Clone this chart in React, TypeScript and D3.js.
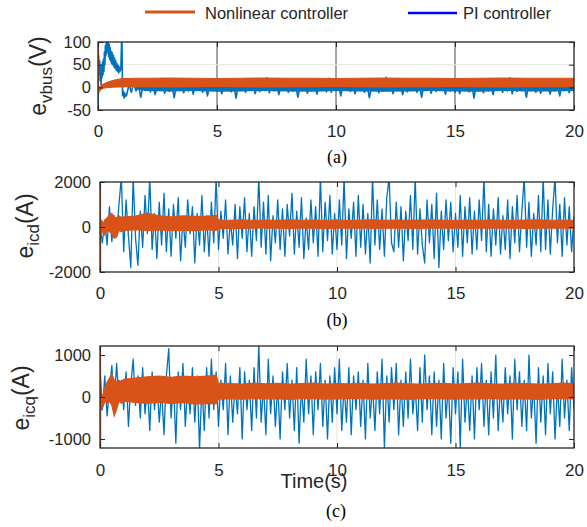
import React, { useEffect, useRef } from 'react';
import * as d3 from 'd3';

const W = 587;
const H = 527;
const FONT = 'Arial, "Liberation Sans", Helvetica, sans-serif';
const SERIF = '"Times New Roman", "Liberation Serif", serif';
const BLUE = '#0072BD';
const ORANGE = '#D95319';
const INK = '#262626';

// shared x axis
const timeTicks = [0, 5, 10, 15, 20];
const step = 0.1; // sampling step of the PI traces

// ---- panel (a): e_vbus ----
const vbusTicks = [-50, 0, 50, 100];
const vbusPiEarly: [number, number][] = [
  [0, 0], [0.005, -50], [0.012, 72], [0.03, 65], [0.05, 30], [0.07, 58], [0.09, 15], [0.11, 48],
  [0.13, 5], [0.15, 40], [0.17, 22], [0.19, 55], [0.21, 28], [0.23, 62], [0.25, 35], [0.27, 78],
  [0.29, 50], [0.31, 92], [0.33, 70], [0.35, 100], [0.37, 75], [0.39, 100], [0.41, 82], [0.43, 100],
  [0.45, 68], [0.47, 95], [0.49, 62], [0.51, 88], [0.53, 58], [0.55, 80], [0.57, 52], [0.6, 76],
  [0.62, 50], [0.65, 70], [0.67, 45], [0.7, 64], [0.72, 42], [0.75, 58], [0.77, 38], [0.8, 52],
  [0.82, 35], [0.85, 48], [0.87, 32], [0.9, 45], [0.93, 36], [0.96, 42], [0.99, 100], [1.01, 95],
  [1.03, -18], [1.06, -8], [1.09, -24], [1.12, -12], [1.15, -20], [1.2, -18],
];
const vbusPiStart = 1.2;
const vbusPi = [
  -18, 6, -11, 9, -8, 4, -22, 8, -7, 10,
  -10, 5, -16, 7, -6, 12, -13, 3, -9, 8,
  -23, 6, -7, 9, -12, 4, -8, 11, -15, 7,
  -5, 5, -11, 10, -19, 6, -7, 18, -8, 8,
  -14, 4, -6, 9, -10, 7, -24, 5, -7, 11,
  -11, 6, -5, 10, -14, 4, -9, 8, -7, 21,
  -12, 7, -8, 5, -16, 9, -6, 6, -11, 12,
  -8, 4, -22, 8, -7, 10, -13, 5, -5, 7,
  -15, 9, -7, 6, -10, 20, -11, 4, -8, 8,
  -19, 7, -6, 11, -9, 5, -14, 9, -7, 6,
  -11, 10, -23, 4, -7, 8, -12, 6, -8, 22,
  -8, 5, -14, 9, -6, 7, -16, 4, -10, 11,
  -7, 8, -11, 6, -22, 10, -7, 5, -13, 7,
  -9, 9, -5, 4, -15, 8, -8, 19, -11, 6,
  -14, 10, -7, 5, -10, 7, -24, 9, -7, 4,
  -12, 8, -8, 6, -16, 11, -6, 5, -11, 7,
  -8, 21, -14, 4, -9, 9, -7, 6, -22, 8,
  -7, 5, -11, 10, -13, 7, -5, 4, -15, 9,
  -8, 6, -19, 8, -7, 5, -12, 10, -10,
];
// solid core of the fast PI oscillation (0 down to this level)
const vbusPiCoreTime = [1.6, 2, 3, 4, 5, 6, 7, 8, 9, 10, 11, 12, 13, 14, 15, 16, 17, 18, 19, 20];
const vbusPiCoreLow = [-5, -8, -9, -8, -10, -9, -8, -9, -10, -8, -9, -10, -9, -8, -9, -10, -8, -9, -9, -8];
const vbusNlSpike: [number, number][] = [[0, 100], [0.003, -15], [0.01, -4]];
const vbusNlTime = [
  0.01, 0.05, 0.1, 0.15, 0.2, 0.3, 0.4, 0.5, 0.6, 0.7, 0.8, 0.9, 1, 1.2, 1.5,
  2, 3, 4, 5, 6, 7, 8, 9, 10, 11, 12, 13, 14, 15, 16, 17, 18, 19, 20,
];
const vbusNlUpper = [
  -4, -1, 2, 4, 6, 9, 11, 13, 15, 16, 17, 18, 19, 19.5, 20,
  20, 20.5, 20, 19.5, 20, 20.5, 20, 20, 19.5, 20, 20.5, 20, 20, 19.5, 20, 20.5, 20, 20, 20,
];
const vbusNlLower = [
  -14, -9, -6, -4, -2, -1, 0, 0, 0.5, 0.5, 1, 1, 1, 1.5, 1.5,
  1.5, 1, 1.5, 2, 1.5, 1, 1.5, 1.5, 2, 1.5, 1, 1.5, 1.5, 2, 1.5, 1, 1.5, 1.5, 1.5,
];

// ---- panel (b): e_icd ----
const icdTicks = [-2000, 0, 2000];
const icdPi = [
  0, -700, 300, -800, 900, -650, 500, -350, 1000, 2200,
  -1100, 1200, -400, -1800, 2200, -500, -1700, 700, -900, 1400,
  -300, 2200, -1000, 600, -1400, 1100, -800, 1500, -1100, 800,
  -1300, 1000, -500, 1300, -1500, 400, -900, 1200, -300, 900,
  -1600, 600, -800, 1400, -1100, 500, -1300, 1100, -700, 2200,
  -1000, 700, -500, 1200, -1200, 300, -800, 1000, -1400, 900,
  -500, 1300, -1100, 600, -1300, 900, -600, 2200, -900, 1100,
  -1200, 1400, -1500, 500, -700, 1200, -1000, 800, -1300, 1000,
  -400, 1500, -1200, 700, -900, 1300, -1400, 400, -1000, 1200,
  -700, 900, -1300, 2200, -1100, 1100, -600, 1400, -1200, 600,
  -1000, 1200, -800, 2200, -1400, 800, -500, 1100, -1300, 1400,
  -900, 1000, -1200, 600, -1600, 2200, -800, 1200, -1000, 800,
  -1300, 1300, 2200, -700, -1100, 1100, -900, 900, -1500, 700,
  -600, 1400, -1000, 2200, -1200, 800, -800, -1600, 1200, -700,
  1000, -1400, 1500, -1800, 700, -1000, 1200, -600, 1100, -1100,
  600, -900, 1400, -1300, 900, -700, 1300, -1200, 700, -1000,
  1200, -600, 2200, -1100, 1000, -1300, 800, -800, 1300, -1200,
  500, -1000, 1200, -1400, 900, -700, 1400, -1100, 700, 2200,
  -900, 1100, -1300, 600, -800, 1400, -1100, 2200, -1000, 1200,
  -1200, 800, 2200, -700, 1000, -1300, 1300, -800, 900, -1100,
  500,
];
const icdNlSpike: [number, number][] = [[0, 2200], [0.003, -2200], [0.008, 0]];
const currentNlTime = [
  0.01, 0.05, 0.1, 0.15, 0.2, 0.3, 0.4, 0.5, 0.6, 0.7, 0.8, 0.9, 1,
  1.5, 2, 2.5, 3, 3.5, 4, 4.5, 4.9, 5,
  5.5, 6, 6.5, 7, 7.5, 8, 8.5, 9, 9.5, 10, 10.5, 11, 11.5, 12, 12.5,
  13, 13.5, 14, 14.5, 15, 15.5, 16, 16.5, 17, 17.5, 18, 18.5, 19, 19.5, 20,
];
const icdNlUpper = [
  200, 300, 250, 150, 300, 400, 550, 600, 450, 400, 500, 420, 450,
  480, 620, 500, 450, 500, 470, 480, 520, 310,
  300, 320, 290, 310, 300, 320, 295, 310, 300, 315,
  290, 305, 320, 300, 310, 295, 305, 320, 300, 290,
  310, 300, 315, 300, 295, 310, 320, 300, 305, 300,
];
const icdNlLower = [
  -400, -300, -200, -250, -350, -150, -200, -300, -500, -450, -150, -200, -150,
  -120, -150, -130, -150, -140, -160, -120, -150, -60,
  -50, -60, -45, -55, -50, -65, -45, -50, -60, -50,
  -55, -45, -60, -50, -55, -50, -65, -45, -50, -55,
  -60, -50, -45, -55, -50, -60, -50, -45, -55, -50,
];

// ---- panel (c): e_icq ----
const icqTicks = [-1000, 0, 1000];
const icqPi = [
  700, -300, 500, -450, 200, 750, -200, 800, -100, 400,
  -300, 600, -700, 300, 900, -200, 500, -500, 700, -400,
  300, -800, 600, -300, 400, -600, 200, -900, 500, 1150,
  -500, 400, -1100, 600, -300, 800, -700, 300, -400, 700,
  -600, 500, -1250, 300, -800, 700, -500, 900, -300, 600,
  -700, 400, -300, 800, -900, 500, -600, 300, -400, 700,
  -1000, 600, -300, 400, -800, 700, -500, 1250, -600, 300,
  -900, 900, -400, 500, -700, 300, -1000, 600, -300, 800,
  -500, 400, -800, 700, -1100, 300, -600, 900, -400, 500,
  -900, 600, -300, 800, -700, 400, -1000, 500, -600, 700,
  -400, 900, -800, 300, -600, 700, -900, 500, -300, 600,
  -700, 400, -1000, 800, -500, 300, -800, 600, -400, 900,
  -1200, 500, -600, 700, -300, 800, -900, 400, -700, 600,
  -500, 900, -400, 300, -800, 700, -600, 1000, -300, 500,
  -900, 600, -700, 400, -1000, 800, -500, 300, -1100, 700,
  -400, 600, -1200, 900, -600, 300, -800, 500, -1000, 700,
  -300, 800, -700, 400, -900, 600, -500, 1000, -800, 300,
  -600, 700, -400, 500, -1000, 900, -300, 600, -700, 400,
  -800, 1000, -500, 300, -1100, 700, -600, 500, -900, 800,
  -400, 600, -1000, 300, -700, 900, -500, 400, -800, 700,
  -300,
];
const icqNlSpike: [number, number][] = [[0, 1300], [0.003, -1300], [0.008, -200]];
const icqNlUpper = [
  -100, -50, 0, 100, 200, 350, 450, 550, 400, 350, 400, 350, 420,
  450, 480, 500, 470, 500, 480, 500, 520, 330,
  320, 310, 330, 315, 325, 305, 320, 330, 310, 320,
  315, 325, 310, 320, 330, 315, 305, 320, 325, 310,
  320, 330, 315, 310, 325, 320, 305, 315, 330, 320,
];
const icqNlLower = [
  -350, -300, -250, -200, -100, -150, -100, -200, -450, -300, -100, -150, -100,
  -130, -150, -120, -160, -130, -170, -150, -160, -50,
  -40, -50, -35, -45, -40, -55, -35, -40, -50, -45,
  -40, -35, -50, -45, -40, -55, -40, -35, -45, -50,
  -40, -45, -35, -50, -40, -45, -55, -40, -35, -45,
];

type Box = { left: number; right: number; top: number; bottom: number };

type PanelProps = {
  id: string;
  box: Box;
  yDomain: [number, number];
  yTicks: number[];
  yGrid: number[];
  yPad: number;
  xPad: number;
  xGridColor: string;
  piEarly: [number, number][];
  piStart: number;
  pi: number[];
  piCoreTime?: number[];
  piCoreLow?: number[];
  nlSpike: [number, number][];
  nlTime: number[];
  nlUpper: number[];
  nlLower: number[];
  piWidth: number;
};

function Panel(props: PanelProps) {
  const { id, box, yDomain, yTicks, yGrid, yPad, xPad, xGridColor } = props;
  const bottomRef = useRef<SVGGElement>(null);
  const topRef = useRef<SVGGElement>(null);
  const leftRef = useRef<SVGGElement>(null);
  const rightRef = useRef<SVGGElement>(null);

  const x = d3.scaleLinear().domain([0, 20]).range([box.left, box.right]);
  const y = d3.scaleLinear().domain(yDomain).range([box.bottom, box.top]);

  useEffect(() => {
    const style = (g: any, size: number) => {
      g.select('.domain').remove();
      g.attr('font-family', FONT).attr('font-size', size).attr('color', INK);
      g.selectAll('line').attr('stroke-width', 1);
    };
    d3.select(bottomRef.current!)
      .call(d3.axisBottom(x).tickValues(timeTicks).tickSizeInner(-5).tickSizeOuter(0)
        .tickPadding(xPad).tickFormat((d) => String(d)))
      .call((g) => style(g, 17));
    d3.select(topRef.current!)
      .call(d3.axisTop(x).tickValues(timeTicks).tickSizeInner(-5).tickSizeOuter(0).tickFormat(() => ''))
      .call((g) => style(g, 17));
    d3.select(leftRef.current!)
      .call(d3.axisLeft(y).tickValues(yTicks).tickSizeInner(-5).tickSizeOuter(0)
        .tickPadding(yPad).tickFormat((d) => String(d)))
      .call((g) => style(g, 16.5));
    d3.select(rightRef.current!)
      .call(d3.axisRight(y).tickValues(yTicks).tickSizeInner(-5).tickSizeOuter(0).tickFormat(() => ''))
      .call((g) => style(g, 16.5));
  });

  // PI trace: early transient pairs followed by the evenly sampled part
  const piPoints: [number, number][] = props.piEarly.concat(
    props.pi.map((v, i) => [props.piStart + i * step, v] as [number, number])
  );
  const line = d3.line<[number, number]>().x((d) => x(d[0])).y((d) => y(d[1]));
  const band = d3.area<number>()
    .x((t) => x(t))
    .y0((_, i) => y(props.nlLower[i]))
    .y1((_, i) => y(props.nlUpper[i]));
  const core = props.piCoreTime && props.piCoreLow
    ? d3.area<number>().x((t) => x(t)).y0(y(3)).y1((_, i) => y(props.piCoreLow![i]))(props.piCoreTime)
    : null;

  const gridYs = yGrid.map((v) => y(v));

  return (
    <g>
      <defs>
        <clipPath id={id}>
          <rect x={box.left} y={box.top} width={box.right - box.left} height={box.bottom - box.top} />
        </clipPath>
      </defs>
      {/* grid */}
      {timeTicks.slice(1, -1).map((t) => (
        <line key={'gx' + t} x1={x(t)} x2={x(t)} y1={box.top} y2={box.bottom} stroke={xGridColor} strokeWidth={1} />
      ))}
      {gridYs.map((gy, i) => (
        <line key={'gy' + i} x1={box.left} x2={box.right} y1={gy} y2={gy} stroke="#e3e3e3" strokeWidth={1} />
      ))}
      <g clipPath={`url(#${id})`}>
        {core && <path d={core} fill={BLUE} />}
        <path d={line(piPoints)!} fill="none" stroke={BLUE} strokeWidth={props.piWidth} strokeLinejoin="round" />
        <path d={band(props.nlTime)!} fill={ORANGE} stroke={ORANGE} strokeWidth={1.2} />
        <path d={line(props.nlSpike)!} fill="none" stroke={ORANGE} strokeWidth={2.2} />
      </g>
      <rect x={box.left} y={box.top} width={box.right - box.left} height={box.bottom - box.top}
        fill="none" stroke={INK} strokeWidth={1.3} />
      <g ref={bottomRef} transform={`translate(0, ${box.bottom})`} />
      <g ref={topRef} transform={`translate(0, ${box.top})`} />
      <g ref={leftRef} transform={`translate(${box.left}, 0)`} />
      <g ref={rightRef} transform={`translate(${box.right}, 0)`} />
    </g>
  );
}

function YLabel({ x, y, sub, unit }: { x: number; y: number; sub: string; unit: string }) {
  return (
    <text transform={`translate(${x}, ${y}) rotate(-90)`} textAnchor="middle"
      fontFamily={FONT} fontSize={23} fill={INK}>
      e<tspan fontSize={17} dy={6}>{sub}</tspan><tspan dy={-6}>{unit}</tspan>
    </text>
  );
}

export default function App() {
  const boxA: Box = { left: 98, right: 574, top: 42, bottom: 110 };
  const boxB: Box = { left: 100, right: 574, top: 182, bottom: 272 };
  const boxC: Box = { left: 100, right: 574, top: 346, bottom: 448 };

  return (
    <svg width={W} height={H} style={{ position: 'absolute', left: 0, top: 0, background: '#fff' }}>
      <rect width={W} height={H} fill="#fff" />

      {/* legend */}
      <line x1={145} x2={195} y1={12} y2={12} stroke={ORANGE} strokeWidth={3} />
      <text x={205} y={19} fontFamily={FONT} fontSize={16.5} fill={INK}>Nonlinear controller</text>
      <line x1={408} x2={457} y1={13} y2={13} stroke="#0000FF" strokeWidth={2.5} />
      <text x={463} y={19} fontFamily={FONT} fontSize={16.5} fill={INK}>PI controller</text>

      <Panel id="clipA" box={boxA} yDomain={[-50, 100]} yTicks={vbusTicks} yGrid={[50]}
        yPad={7} xPad={15} xGridColor="#4a4a4a"
        piEarly={vbusPiEarly} piStart={vbusPiStart} pi={vbusPi} piWidth={1.6}
        piCoreTime={vbusPiCoreTime} piCoreLow={vbusPiCoreLow}
        nlSpike={vbusNlSpike} nlTime={vbusNlTime} nlUpper={vbusNlUpper} nlLower={vbusNlLower} />
      <Panel id="clipB" box={boxB} yDomain={[-2000, 2000]} yTicks={icdTicks} yGrid={[]}
        yPad={9} xPad={15} xGridColor="#e3e3e3"
        piEarly={[]} piStart={0} pi={icdPi} piWidth={1.3}
        nlSpike={icdNlSpike} nlTime={currentNlTime} nlUpper={icdNlUpper} nlLower={icdNlLower} />
      <Panel id="clipC" box={boxC} yDomain={[-1215, 1215]} yTicks={icqTicks} yGrid={[]}
        yPad={9} xPad={16} xGridColor="#e3e3e3"
        piEarly={[]} piStart={0} pi={icqPi} piWidth={1.3}
        nlSpike={icqNlSpike} nlTime={currentNlTime} nlUpper={icqNlUpper} nlLower={icqNlLower} />

      <YLabel x={46} y={76} sub="vbus" unit="(V)" />
      <YLabel x={33} y={226} sub="icd" unit="(A)" />
      <YLabel x={29} y={398} sub="icq" unit="(A)" />

      <text x={314} y={488} textAnchor="middle" fontFamily={FONT} fontSize={20} fill={INK}>Time(s)</text>

      <text x={337} y={163} textAnchor="middle" fontFamily={SERIF} fontSize={18} fill="#000">(a)</text>
      <text x={337} y={326} textAnchor="middle" fontFamily={SERIF} fontSize={18} fill="#000">(b)</text>
      <text x={336} y={517} textAnchor="middle" fontFamily={SERIF} fontSize={18} fill="#000">(c)</text>
    </svg>
  );
}
